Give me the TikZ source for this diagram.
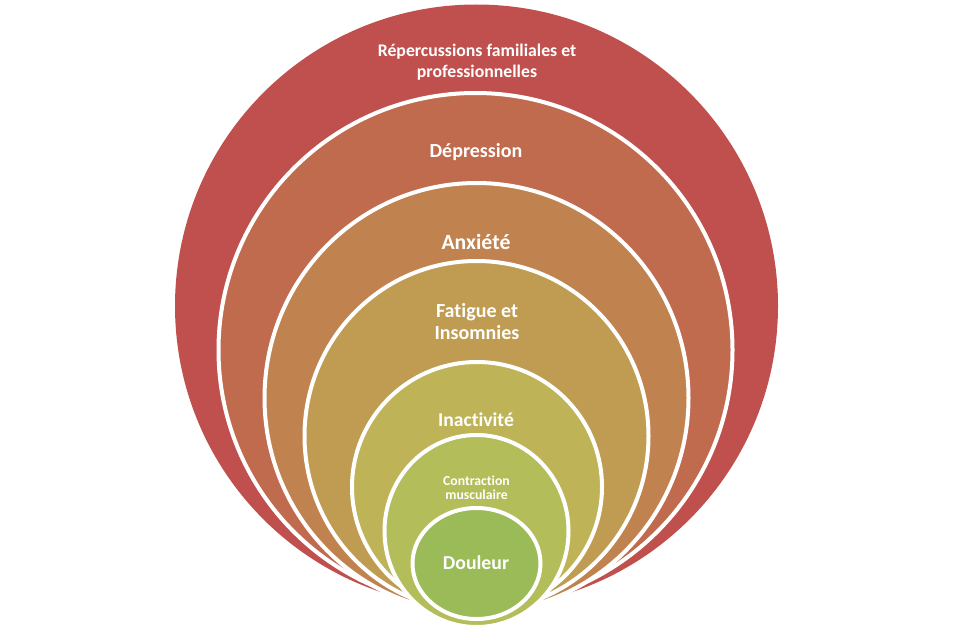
\documentclass[tikz,border=0pt]{standalone}
\usepackage{fontspec}
\setmainfont{Carlito}[Ligatures={NoCommon}]
\definecolor{cRed}{HTML}{C0504D}
\definecolor{cDep}{HTML}{C06A4E}
\definecolor{cAnx}{HTML}{C08350}
\definecolor{cFat}{HTML}{BF9C52}
\definecolor{cIna}{HTML}{BFB358}
\definecolor{cCon}{HTML}{B3BD59}
\definecolor{cDou}{HTML}{9BBB59}
\begin{document}
\begin{tikzpicture}[x=0.75pt,y=-0.75pt,
  ring/.style={fill=#1, draw=white, line width=3pt},
  lbl/.style={text=white, font=\bfseries, align=center, inner sep=0pt}]
\useasboundingbox (0,0) rectangle (953,635);
% shapes
\fill[cRed] (476.5,306) ellipse [x radius=301.5, y radius=301.5];
\path[ring=cDep] (475.5,350) ellipse [x radius=257, y radius=257];
\path[ring=cAnx] (476.5,398) ellipse [x radius=212, y radius=215];
\path[ring=cFat] (476.5,436) ellipse [x radius=172, y radius=175];
\path[ring=cIna] (477,487) ellipse [x radius=125, y radius=125];
\path[ring=cCon] (476.5,531) ellipse [x radius=92, y radius=96];
\path[ring=cDou] (476.5,563.5) ellipse [x radius=64, y radius=55.5];
% labels
\node[lbl, font=\bfseries\fontsize{13.3}{15.75}\selectfont] (rep) at (477,62.5) {Répercussions familiales et\\professionnelles};
\node[lbl, font=\bfseries\fontsize{15}{18}\selectfont] (dep) at (476,152) {Dépression};
\node[lbl, font=\bfseries\fontsize{16.3}{19}\selectfont] (anx) at (476,242) {Anxiété};
\node[lbl, font=\bfseries\fontsize{15}{16.5}\selectfont] (fat) at (477,322) {Fatigue et\\Insomnies};
\node[lbl, font=\bfseries\fontsize{14.7}{17}\selectfont] (ina) at (476,420) {Inactivité};
\node[lbl, font=\bfseries\fontsize{10.3}{10.5}\selectfont] (con) at (476.5,487.5) {Contraction\\musculaire};
\node[lbl, font=\bfseries\fontsize{14.8}{17}\selectfont] (dou) at (476,563) {Douleur};
\end{tikzpicture}
\end{document}
